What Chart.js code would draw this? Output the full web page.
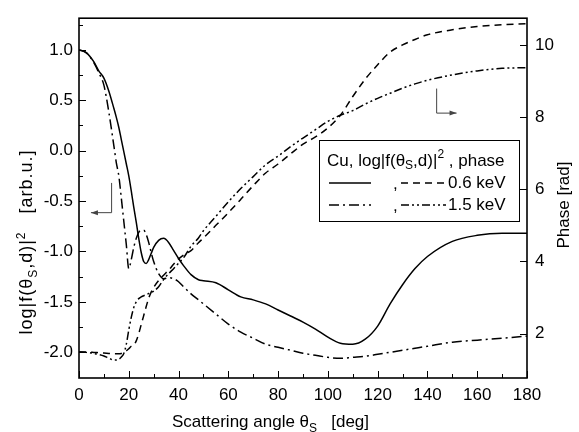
<!DOCTYPE html>
<html>
<head>
<meta charset="utf-8">
<script src="https://cdn.jsdelivr.net/npm/chart.js@4/dist/chart.umd.min.js"></script>
<style>
  html, body { margin: 0; padding: 0; background: #fff; }
</style>
</head>
<body>
<canvas id="chart" width="579" height="432"></canvas>
<script>
// scattering angle grid [deg]
const theta = [0, 3, 6, 8, 10, 12, 14, 15, 16, 17, 18, 19, 20, 21, 22, 23, 24, 25, 26, 27, 28, 29, 30,
  32, 34, 36, 38, 40, 42, 45, 48, 50, 55, 60, 65, 70, 75, 80, 85, 90, 95, 100, 105, 110, 115, 120,
  125, 130, 135, 140, 150, 160, 170, 180];

// log|f|^2, 0.6 keV (solid)
const log06 = [1.0, 0.97, 0.88, 0.79, 0.72, 0.59, 0.42, 0.33, 0.23, 0.11, -0.01, -0.13, -0.25, -0.40, -0.56, -0.71, -0.87, -1.01, -1.10, -1.12, -1.08, -1.02, -0.96,
  -0.89, -0.87, -0.91, -0.99, -1.07, -1.14, -1.23, -1.28, -1.29, -1.31, -1.38, -1.45, -1.48, -1.52, -1.58, -1.64, -1.70, -1.77, -1.85, -1.91, -1.92, -1.87, -1.74,
  -1.52, -1.33, -1.17, -1.05, -0.90, -0.84, -0.82, -0.82];

// log|f|^2, 1.5 keV (dash-dot)
const log15 = [1.0, 0.97, 0.87, 0.77, 0.65, 0.38, 0.05, -0.12, -0.25, -0.47, -0.70, -0.93, -1.17, -1.08, -0.96, -0.87, -0.81, -0.79, -0.79, -0.83, -0.91, -1.01, -1.10,
  -1.22, -1.27, -1.26, -1.27, -1.30, -1.35, -1.42, -1.48, -1.52, -1.62, -1.72, -1.80, -1.86, -1.92, -1.95, -1.98, -2.01, -2.03, -2.05, -2.06, -2.05, -2.04, -2.02,
  -2.00, -1.98, -1.96, -1.94, -1.90, -1.88, -1.86, -1.84];

// phase [rad], 0.6 keV (dashed)
const phase06 = [1.49, 1.49, 1.48, 1.47, 1.46, 1.45, 1.44, 1.44, 1.44, 1.45, 1.48, 1.52, 1.58, 1.65, 1.68, 1.80, 2.0, 2.25, 2.5, 2.75, 2.98, 3.15, 3.28,
  3.47, 3.62, 3.76, 3.92, 4.07, 4.18, 4.3, 4.52, 4.65, 5.0, 5.35, 5.72, 6.1, 6.45, 6.7, 6.98, 7.25, 7.45, 7.7, 8.05, 8.57, 9.05, 9.45,
  9.8, 10.0, 10.15, 10.28, 10.42, 10.51, 10.56, 10.59];

// phase [rad], 1.5 keV (dash-dot-dot)
const phase15 = [1.49, 1.48, 1.45, 1.42, 1.38, 1.32, 1.27, 1.27, 1.29, 1.35, 1.45, 1.7, 2.1, 2.45, 2.72, 2.88, 2.97, 3.02, 3.05, 3.08, 3.11, 3.14, 3.18,
  3.3, 3.5, 3.66, 3.8, 3.95, 4.1, 4.42, 4.65, 4.85, 5.25, 5.65, 6.02, 6.35, 6.68, 6.92, 7.18, 7.42, 7.65, 7.88, 8.05, 8.18, 8.36, 8.52,
  8.66, 8.8, 8.92, 9.02, 9.17, 9.28, 9.35, 9.37];

const leftTicks = [1.0, 0.5, 0.0, -0.5, -1.0, -1.5, -2.0];
const rightTicks = [2, 4, 6, 8, 10];

const FONT = "'Liberation Sans', Arial, sans-serif";
const FS = 17;

function pts(ys) {
  return theta.map((t, i) => ({ x: t, y: ys[i] }));
}

// text pieces: [string, 'n'|'sub'|'sup']
function drawRich(ctx, parts, x, y, size) {
  let cx = x;
  parts.forEach(([s, kind]) => {
    let fs = size, dy = 0;
    if (kind === "sub") { fs = Math.round(size * 0.68); dy = size * 0.28; }
    if (kind === "sup") { fs = Math.round(size * 0.68); dy = -size * 0.38; }
    ctx.font = fs + "px " + FONT;
    ctx.fillText(s, cx, y + dy);
    cx += ctx.measureText(s).width;
  });
  return cx - x;
}

function richWidth(ctx, parts, size) {
  let w = 0;
  parts.forEach(([s, kind]) => {
    const fs = kind === "n" ? size : Math.round(size * 0.68);
    ctx.font = fs + "px " + FONT;
    w += ctx.measureText(s).width;
  });
  return w;
}

function arrowLine(ctx, pts, dir) {
  ctx.beginPath();
  ctx.moveTo(pts[0][0], pts[0][1]);
  for (let i = 1; i < pts.length; i++) ctx.lineTo(pts[i][0], pts[i][1]);
  ctx.stroke();
  const [ex, ey] = pts[pts.length - 1];
  ctx.beginPath();
  ctx.moveTo(ex, ey);
  ctx.lineTo(ex - dir * 7, ey - 2.5);
  ctx.lineTo(ex - dir * 7, ey + 2.5);
  ctx.closePath();
  ctx.fill();
}

const decorPlugin = {
  id: "decor",
  afterDraw(chart) {
    const ctx = chart.ctx;
    const a = chart.chartArea;
    const sx = chart.scales.x, sy = chart.scales.y, sr = chart.scales.y1;
    ctx.save();
    ctx.strokeStyle = "#000";
    ctx.fillStyle = "#000";

    // frame
    ctx.lineWidth = 1.6;
    ctx.strokeRect(a.left, a.top, a.right - a.left, a.bottom - a.top);

    // inward ticks
    ctx.lineWidth = 1;
    ctx.beginPath();
    for (let v = 0; v <= 180; v += 10) {
      const p = Math.round(sx.getPixelForValue(v)) + 0.5;
      const len = v % 20 === 0 ? 7 : 4;
      ctx.moveTo(p, a.bottom);
      ctx.lineTo(p, a.bottom - len);
    }
    for (let v = -2.0; v <= 1.26; v += 0.25) {
      const p = Math.round(sy.getPixelForValue(v)) + 0.5;
      const len = Math.abs(v * 2 - Math.round(v * 2)) < 0.01 ? 7 : 4;
      ctx.moveTo(a.left, p);
      ctx.lineTo(a.left + len, p);
    }
    rightTicks.forEach(v => {
      const p = Math.round(sr.getPixelForValue(v)) + 0.5;
      ctx.moveTo(a.right, p);
      ctx.lineTo(a.right - 7, p);
    });
    ctx.stroke();

    // axis-pointing arrows
    ctx.strokeStyle = "#444";
    ctx.fillStyle = "#444";
    ctx.lineWidth = 1;
    arrowLine(ctx, [
      [sx.getPixelForValue(13.1), sy.getPixelForValue(-0.32)],
      [sx.getPixelForValue(13.1), sy.getPixelForValue(-0.615)],
      [sx.getPixelForValue(4.8), sy.getPixelForValue(-0.615)]
    ], -1);
    arrowLine(ctx, [
      [sx.getPixelForValue(143.7), sr.getPixelForValue(8.79)],
      [sx.getPixelForValue(143.7), sr.getPixelForValue(8.11)],
      [sx.getPixelForValue(151.7), sr.getPixelForValue(8.11)]
    ], 1);

    // legend
    ctx.lineWidth = 1;
    ctx.fillStyle = "#fff";
    ctx.fillRect(319.5, 140.5, 200, 81);
    ctx.strokeStyle = "#000";
    ctx.fillStyle = "#000";
    ctx.strokeRect(319.5, 140.5, 200, 81);
    ctx.textBaseline = "middle";
    ctx.textAlign = "left";
    drawRich(ctx, [["Cu, log|f(\u03b8", "n"], ["S", "sub"], [",d)|", "n"], ["2", "sup"], [" , phase", "n"]], 327, 161, FS);
    const rows = [
      { y: 183, a: chart.data.datasets[0], b: chart.data.datasets[2], text: "0.6 keV" },
      { y: 205, a: chart.data.datasets[1], b: chart.data.datasets[3], text: "1.5 keV" }
    ];
    rows.forEach(r => {
      ctx.lineWidth = 1.5;
      ctx.setLineDash(r.a.borderDash || []);
      ctx.beginPath(); ctx.moveTo(329, r.y); ctx.lineTo(371, r.y); ctx.stroke();
      ctx.setLineDash(r.b.borderDash || []);
      ctx.beginPath(); ctx.moveTo(401, r.y); ctx.lineTo(446, r.y); ctx.stroke();
      ctx.setLineDash([]);
      ctx.font = FS + "px " + FONT;
      ctx.fillText(",", 393, r.y + 1);
      ctx.fillText(r.text, 448, r.y);
    });

    // axis titles
    ctx.textBaseline = "alphabetic";
    const xt = [["Scattering angle \u03b8", "n"], ["S", "sub"], ["   [deg]", "n"]];
    drawRich(ctx, xt, 172, 427, FS);

    const lt = [["log|f(\u03b8", "n"], ["S", "sub"], [",d)|", "n"], ["2", "sup"], ["   [arb.u.]", "n"]];
    ctx.save();
    ctx.translate(32, 232);
    ctx.rotate(-Math.PI / 2);
    ctx.letterSpacing = "1px";
    drawRich(ctx, lt, -(richWidth(ctx, lt, 18) + 20) / 2, 0, 18);
    ctx.restore();

    ctx.save();
    ctx.translate(569, 205);
    ctx.rotate(-Math.PI / 2);
    ctx.font = FS + "px " + FONT;
    ctx.textAlign = "center";
    ctx.fillText("Phase [rad]", 0, 0);
    ctx.restore();

    ctx.restore();
  }
};

const lineDefaults = {
  borderColor: "#000",
  borderWidth: 1.5,
  pointRadius: 0,
  fill: false,
  cubicInterpolationMode: "monotone"
};

new Chart(document.getElementById("chart"), {
  type: "line",
  data: {
    datasets: [
      { ...lineDefaults, label: "log 0.6 keV", data: pts(log06), yAxisID: "y" },
      { ...lineDefaults, label: "log 1.5 keV", data: pts(log15), yAxisID: "y", borderDash: [10, 4, 2, 4] },
      { ...lineDefaults, label: "phase 0.6 keV", data: pts(phase06), yAxisID: "y1", borderDash: [7, 5] },
      { ...lineDefaults, label: "phase 1.5 keV", data: pts(phase15), yAxisID: "y1", borderDash: [8, 3, 2, 3, 2, 3] }
    ]
  },
  options: {
    responsive: false,
    animation: false,
    layout: { padding: { top: 14, left: 0, right: 0, bottom: 0 } },
    plugins: { legend: { display: false }, tooltip: { enabled: false } },
    scales: {
      x: {
        type: "linear",
        min: 0,
        max: 180,
        grid: { display: false, drawTicks: false },
        border: { display: false },
        ticks: { stepSize: 20, color: "#000", font: { size: FS, family: FONT }, padding: 7, maxRotation: 0 },
        afterFit: s => { s.height = 54; }
      },
      y: {
        position: "left",
        min: -2.255,
        max: 1.314,
        grid: { display: false, drawTicks: false },
        border: { display: false },
        ticks: { color: "#000", font: { size: FS, family: FONT }, padding: 6, callback: v => v.toFixed(1) },
        afterBuildTicks: s => { s.ticks = leftTicks.map(v => ({ value: v })); },
        afterFit: s => { s.width = 79; }
      },
      y1: {
        position: "right",
        min: 0.77,
        max: 10.74,
        grid: { display: false, drawTicks: false },
        border: { display: false },
        ticks: { color: "#000", font: { size: FS, family: FONT }, padding: 8 },
        afterBuildTicks: s => { s.ticks = rightTicks.map(v => ({ value: v })); },
        afterFit: s => { s.width = 52; }
      }
    }
  },
  plugins: [decorPlugin]
});
</script>
</body>
</html>
